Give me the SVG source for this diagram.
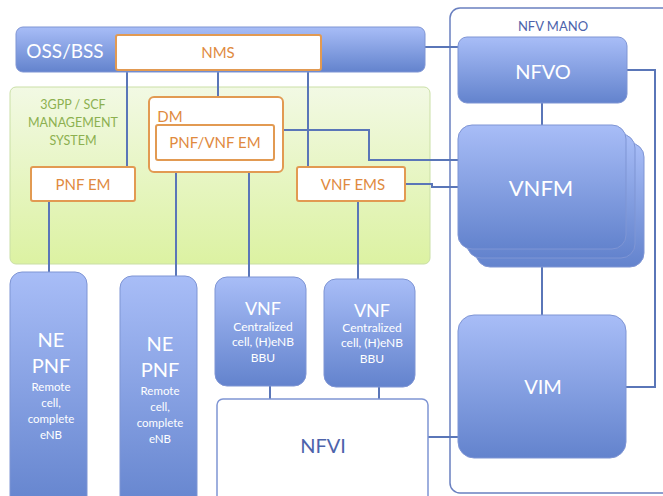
<svg xmlns="http://www.w3.org/2000/svg" width="663" height="496" viewBox="0 0 663 496">
<defs>
<linearGradient id="blue" x1="0" y1="0" x2="0" y2="1">
<stop offset="0" stop-color="#a8bdf7"/>
<stop offset="1" stop-color="#6383cd"/>
</linearGradient>
<linearGradient id="green" x1="0" y1="0" x2="0" y2="1">
<stop offset="0" stop-color="#f2f9e4"/>
<stop offset="1" stop-color="#dcf2a2"/>
</linearGradient>
</defs>
<style>
text{font-family:Lato,"Liberation Sans",sans-serif;text-anchor:middle}
.bn{fill:url(#blue);stroke:#7f95d4;stroke-width:1}
.ob{fill:#fff;stroke:#e29a52;stroke-width:2}
.ot{fill:#e08a3e;font-size:15px}
.wt{fill:#fff}
.ln{fill:none;stroke:#5a76b8;stroke-width:2}
</style>
<g id="nfv-mano"><rect x="450" y="8" width="225" height="485" rx="10" fill="none" stroke="#6a80c0" stroke-width="1.5"/><text x="553" y="31" fill="#4d63ab" font-size="13">NFV MANO</text></g>
<g id="mgmt-system"><rect x="10" y="87" width="420" height="177" rx="6" fill="url(#green)" stroke="#cadfa6" stroke-width="1"/><text x="73" y="109" fill="#8cb050" font-size="12.5">3GPP / SCF</text><text x="73" y="127" fill="#8cb050" font-size="12.5">MANAGEMENT</text><text x="73" y="145" fill="#8cb050" font-size="12.5">SYSTEM</text></g>
<g id="connectors">
<path class="ln" d="M127 70V167M218 70V97M308 70V167"/>
<path class="ln" d="M282 130H369V160H458"/>
<path class="ln" d="M405 184H432V187H458"/>
<path class="ln" d="M425 47H458"/>
<path class="ln" d="M49 201V272M176 172V276M249 172V277M358 201V279"/>
<path class="ln" d="M542 103V126M542 262V315"/>
<path class="ln" d="M626 70H655V387H626"/>
<path class="ln" d="M428 437H458"/>
<path class="ln" d="M270 386V399M379 387V399"/>
</g>
<g id="oss-bss"><rect class="bn" x="16" y="27" width="409" height="45" rx="7"/><text x="65" y="58" class="wt" font-size="19">OSS/BSS</text></g>
<g id="nms"><rect class="ob" x="116" y="35" width="205" height="35" rx="2"/><text x="218" y="58" class="ot">NMS</text></g>
<g id="dm"><rect class="ob" x="149" y="97" width="134" height="75" rx="5"/><text x="170" y="122" class="ot">DM</text></g>
<g id="pnf-vnf-em"><rect class="ob" x="156" y="125" width="118" height="35" rx="2"/><text x="215" y="148" class="ot">PNF/VNF EM</text></g>
<g id="pnf-em"><rect class="ob" x="31" y="167" width="104" height="34" rx="2"/><text x="83" y="190" class="ot">PNF EM</text></g>
<g id="vnf-ems"><rect class="ob" x="297" y="167" width="108" height="34" rx="2"/><text x="353" y="190" class="ot">VNF EMS</text></g>
<g id="nfvo"><rect class="bn" x="458" y="37" width="169" height="66" rx="9"/><text x="543" y="79" class="wt" font-size="20">NFVO</text></g>
<g id="vnfm">
<rect class="bn" x="476" y="143" width="168" height="124" rx="14"/>
<rect class="bn" x="467" y="134" width="168" height="124" rx="14"/>
<rect class="bn" x="458" y="125" width="168" height="124" rx="14"/>
<text x="541" y="196" class="wt" font-size="22">VNFM</text></g>
<g id="vim"><rect class="bn" x="458" y="315" width="168" height="143" rx="16"/><text x="543" y="394" class="wt" font-size="20">VIM</text></g>
<g id="ne-pnf-1"><rect class="bn" x="10" y="272" width="77" height="240" rx="12"/>
<text x="51" y="347" class="wt" font-size="20">NE</text><text x="51" y="373" class="wt" font-size="20">PNF</text>
<text x="51" y="391" class="wt" font-size="11.5">Remote</text><text x="51" y="407" class="wt" font-size="11.5">cell,</text><text x="51" y="423" class="wt" font-size="11.5">complete</text><text x="51" y="439" class="wt" font-size="11.5">eNB</text></g>
<g id="ne-pnf-2"><rect class="bn" x="120" y="276" width="77" height="240" rx="12"/>
<text x="160" y="351" class="wt" font-size="20">NE</text><text x="160" y="377" class="wt" font-size="20">PNF</text>
<text x="160" y="395" class="wt" font-size="11.5">Remote</text><text x="160" y="411" class="wt" font-size="11.5">cell,</text><text x="160" y="427" class="wt" font-size="11.5">complete</text><text x="160" y="443" class="wt" font-size="11.5">eNB</text></g>
<g id="vnf-1"><rect class="bn" x="215" y="277" width="91" height="109" rx="12"/>
<text x="263" y="315" class="wt" font-size="18">VNF</text>
<text x="263" y="331" class="wt" font-size="12">Centralized</text><text x="263" y="346" class="wt" font-size="12">cell, (H)eNB</text><text x="263" y="362" class="wt" font-size="12">BBU</text></g>
<g id="vnf-2"><rect class="bn" x="324" y="279" width="91" height="108" rx="12"/>
<text x="372" y="317" class="wt" font-size="18">VNF</text>
<text x="372" y="332" class="wt" font-size="12">Centralized</text><text x="372" y="347" class="wt" font-size="12">cell, (H)eNB</text><text x="372" y="363" class="wt" font-size="12">BBU</text></g>
<g id="nfvi"><rect x="217" y="399" width="211" height="110" rx="6" fill="#fff" stroke="#7f95d4" stroke-width="1.5"/><text x="323" y="453" fill="#4d63ab" font-size="20">NFVI</text></g>
</svg>
